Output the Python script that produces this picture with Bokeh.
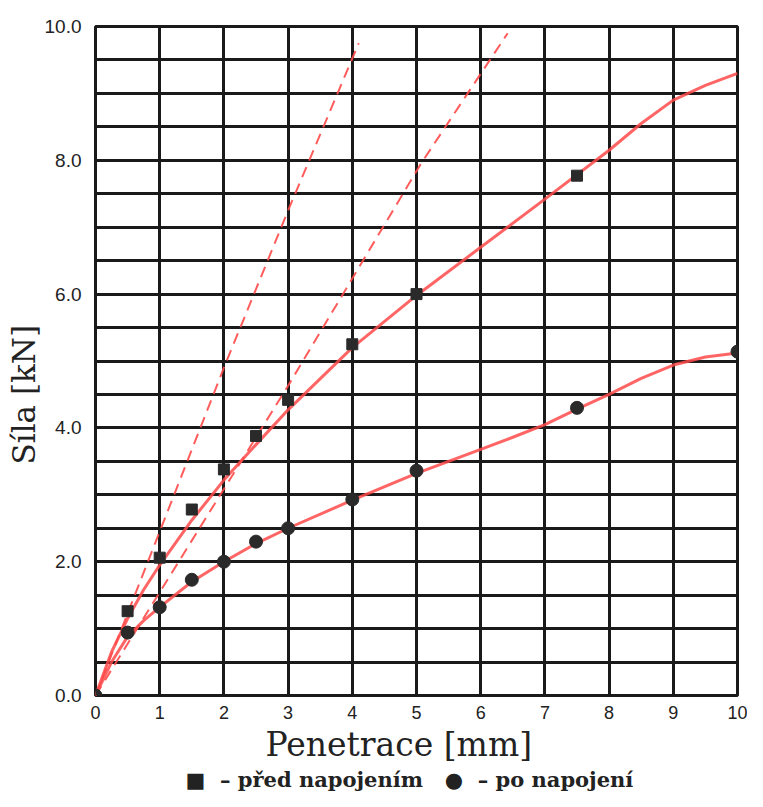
import numpy as np
from bokeh.plotting import figure
from bokeh.models import FixedTicker, Range1d, PrintfTickFormatter, Title
from bokeh.embed import file_html
from bokeh.resources import INLINE

# ---- data ----
# measured points: before connection (squares)
pen_before = [0.5, 1.0, 1.5, 2.0, 2.5, 3.0, 4.0, 5.0, 7.5]
force_before = [1.26, 2.06, 2.78, 3.38, 3.88, 4.42, 5.25, 6.0, 7.77]
# measured points: after connection (circles)
pen_after = [0.0, 0.5, 1.0, 1.5, 2.0, 2.5, 3.0, 4.0, 5.0, 7.5, 10.0]
force_after = [0.0, 0.94, 1.32, 1.73, 2.0, 2.3, 2.5, 2.93, 3.36, 4.3, 5.14]

# fitted solid curves
curve_before_x = [0, 0.25, 0.5, 0.75, 1.0, 1.5, 2.0, 2.5, 3.0, 4.0, 5.0, 6.0, 7.0, 8.0, 8.5, 9.0, 9.5, 10.0]
curve_before_y = [0, 0.65, 1.15, 1.58, 1.95, 2.62, 3.22, 3.75, 4.27, 5.2, 5.98, 6.7, 7.42, 8.15, 8.55, 8.9, 9.12, 9.3]
curve_after_x = [0, 0.25, 0.5, 0.75, 1.0, 1.5, 2.0, 2.5, 3.0, 4.0, 5.0, 6.0, 6.5, 7.0, 7.5, 8.0, 8.5, 9.0, 9.5, 10.0]
curve_after_y = [0, 0.5, 0.88, 1.12, 1.32, 1.7, 2.0, 2.27, 2.5, 2.92, 3.32, 3.68, 3.86, 4.05, 4.28, 4.5, 4.74, 4.94, 5.06, 5.12]

# dashed lines
dash1_x = [0, 1.0, 2.0, 3.0, 4.1]
dash1_y = [0, 2.45, 4.9, 7.25, 9.75]
dash2_x = [0, 3.0, 5.07, 6.42]
dash2_y = [0, 4.63, 7.95, 9.9]

x_ticks = list(range(0, 11))
y_ticks = [0, 2, 4, 6, 8, 10]

x_title = "Penetrace [mm]"
y_title = "Síla [kN]"
NB = "\u00a0"
legend_text = "■" + NB + " – před napojením" + NB * 2 + " ●" + NB + " – po napojení"

RED = "#ff4a4a"

p = figure(width=747, height=791, output_backend="svg", toolbar_location=None,
           x_range=Range1d(0, 10), y_range=Range1d(0, 10),
           min_border_left=95, min_border_right=10, min_border_top=26, min_border_bottom=95)

p.background_fill_color = "white"
p.border_fill_color = "white"
p.outline_line_color = "#1a1a1a"
p.outline_line_width = 3

# grid
p.xgrid.ticker = FixedTicker(ticks=x_ticks)
p.ygrid.ticker = FixedTicker(ticks=list(np.arange(0, 10.01, 0.5)))
for g in (p.xgrid, p.ygrid):
    g.grid_line_color = "#1a1a1a"
    g.grid_line_width = 3
    g.grid_line_alpha = 1.0

# axes
p.xaxis.ticker = FixedTicker(ticks=x_ticks)
p.yaxis.ticker = FixedTicker(ticks=y_ticks)
p.yaxis.formatter = PrintfTickFormatter(format="%.1f")
for ax in (p.xaxis, p.yaxis):
    ax.axis_line_color = None
    ax.major_tick_line_color = None
    ax.minor_tick_line_color = None
    ax.major_tick_out = 0
    ax.major_label_text_font = "Liberation Sans"
    ax.major_label_text_color = "#222222"
p.xaxis.major_label_text_font_size = "18px"
p.yaxis.major_label_text_font_size = "19px"
p.xaxis.major_label_standoff = 10
p.yaxis.major_label_standoff = 14

# curves
p.line(dash1_x, dash1_y, line_color=RED, line_width=2, line_dash="11 7", line_alpha=0.9)
p.line(dash2_x, dash2_y, line_color=RED, line_width=2, line_dash="11 7", line_alpha=0.9)
p.line(curve_before_x, curve_before_y, line_color=RED, line_width=3, line_alpha=0.85)
p.line(curve_after_x, curve_after_y, line_color=RED, line_width=3, line_alpha=0.85)

# points
p.scatter(pen_before, force_before, marker="square", size=11, color="#2a2a2a")
p.scatter(pen_after, force_after, marker="circle", size=13, color="#2a2a2a")

# axis titles and legend line as titles (left-aligned with offsets)
p.add_layout(Title(text=x_title, align="left", offset=170, standoff=2,
                   text_font="DejaVu Serif", text_font_size="33px",
                   text_font_style="normal", text_color="#222222"), "below")
p.add_layout(Title(text=legend_text, align="left", offset=90, standoff=0,
                   text_font="DejaVu Serif", text_font_size="21px",
                   text_font_style="bold", text_color="#222222"), "below")
p.add_layout(Title(text=y_title, align="left", offset=231, standoff=0,
                   text_font="DejaVu Serif", text_font_size="31px",
                   text_font_style="normal", text_color="#222222"), "left")

open("out.html", "w").write(file_html(p, INLINE))
